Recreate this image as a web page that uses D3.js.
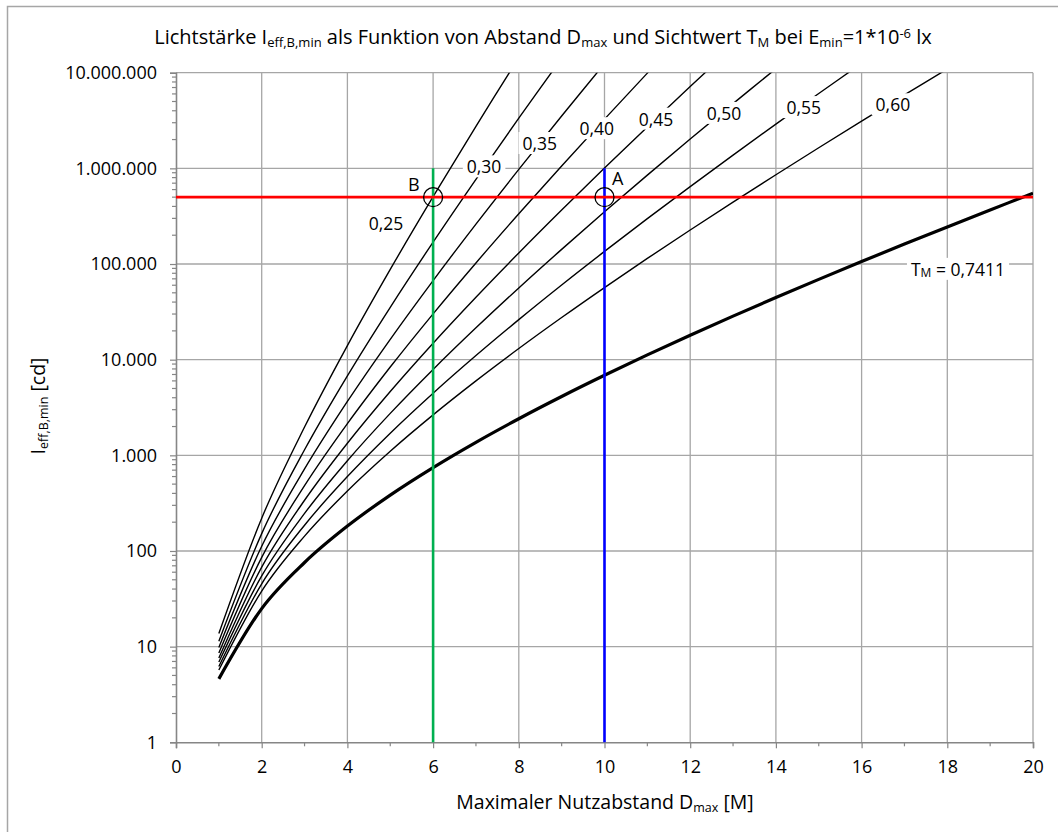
<!DOCTYPE html>
<html>
<head>
<meta charset="utf-8">
<script src="https://cdn.jsdelivr.net/npm/d3@7"></script>
<style>
  body { margin: 0; background: #fff; }
  text { font-family: "Open Sans", sans-serif; fill: #000; }
</style>
</head>
<body>
<div id="chart"></div>
<script>
// distances D_max [M]
var distances = [1, 2, 3, 4, 5, 6, 7, 8, 9, 10, 11, 12, 13, 14, 15, 16, 17, 18, 19, 20];

// I_eff,B,min [cd], one value per distance (until the curve leaves the top)
var i025 = [13.7, 220, 1976, 14050, 87800, 505800, 2754000, 14390000];
var i030 = [11.4, 152, 1143, 6775, 35290, 169400, 768500, 3346000, 14120000];
var i035 = [9.8, 112, 720, 3657, 16330, 67160, 261200, 974700, 3525000, 12430000];
var i040 = [8.6, 85.8, 482, 2144, 8374, 30140, 102600, 335000, 1060000, 3271000, 9895000, 29440000];
var i045 = [7.6, 67.8, 339, 1339, 4647, 14870, 44980, 130600, 367200, 1007000, 2709000, 7163000, 18680000];
var i050 = [6.9, 54.9, 247, 878, 2744, 7903, 21510, 56200, 142200, 351200, 850000, 2023000, 4749000, 11010000];
var i055 = [6.2, 45.4, 186, 600, 1704, 4461, 11040, 26220, 60330, 135400, 297900, 644600, 1376000, 2900000, 6054000, 12520000];
var i060 = [5.7, 38.1, 143, 424, 1103, 2647, 6004, 13070, 27570, 56730, 114400, 226900, 443800, 857900, 1641000, 3113000, 5856000, 10940000];
var i7411 = [4.6, 25.0, 75.8, 182, 384, 745, 1369, 2413, 4120, 6864, 11210, 17990, 28500, 44600, 69080, 106100, 161600, 244400, 367400, 549400];

var curveLabels = ["0,25", "0,30", "0,35", "0,40", "0,45", "0,50", "0,55", "0,60"];
var curveSeries = [i025, i030, i035, i040, i045, i050, i055, i060];
// where each curve label sits, [D, I]
var labelAnchors = [[4.9, 270000], [7.19, 1050000], [8.49, 1840000], [9.82, 2630000],
                    [11.2, 3310000], [12.79, 3800000], [14.65, 4370000], [16.73, 4680000]];

var xTicks = [0, 2, 4, 6, 8, 10, 12, 14, 16, 18, 20];
var yTicks = [1, 10, 100, 1000, 10000, 100000, 1000000, 10000000];

// reading lines and points
var hLevel = 500000;       // red line
var dB = 6, dA = 10;       // green / blue lines
var vTop = 1000000;        // verticals start here
var markers = [{ name: "B", d: 6, i: 500000, lx: 5.55, li: 680000 },
               { name: "A", d: 10, i: 500000, lx: 10.31, li: 790000 }];

var W = 1058, H = 832;
var pLeft = 176, pRight = 1033, pTop = 72.7, pBottom = 742.3;

var svg = d3.select("#chart").append("svg")
    .attr("width", W)
    .attr("height", H);

// chart area border
svg.append("rect")
    .attr("x", 7.5).attr("y", 6.5)
    .attr("width", 1200).attr("height", 1000)
    .attr("fill", "none")
    .attr("stroke", "#a6a6a6")
    .attr("stroke-width", 1.5);

var x = d3.scaleLinear().domain([0, 20]).range([pLeft, pRight]);
var y = d3.scaleLog().domain([1, 1e7]).range([pBottom, pTop]);

var de = d3.formatLocale({ decimal: ",", thousands: ".", grouping: [3], currency: ["", " €"] });
var fmt = de.format(",d");

// grid
svg.append("g").selectAll("line")
    .data(xTicks.slice(1))
    .enter().append("line")
    .attr("x1", d => x(d)).attr("x2", d => x(d))
    .attr("y1", pTop).attr("y2", pBottom)
    .attr("stroke", "#a6a6a6").attr("stroke-width", 1.3);
svg.append("g").selectAll("line")
    .data(yTicks.slice(1))
    .enter().append("line")
    .attr("x1", pLeft).attr("x2", pRight)
    .attr("y1", d => y(d)).attr("y2", d => y(d))
    .attr("stroke", "#a6a6a6").attr("stroke-width", 1.3);

// minor ticks
var minorY = [];
yTicks.slice(0, -1).forEach(function(t) {
    for (var k = 2; k < 10; k++) minorY.push(t * k);
});
svg.append("g").selectAll("line")
    .data(minorY)
    .enter().append("line")
    .attr("x1", pLeft - 4).attr("x2", pLeft)
    .attr("y1", d => y(d)).attr("y2", d => y(d))
    .attr("stroke", "#868686").attr("stroke-width", 1.2);

var minorX = [1, 3, 5, 7, 9, 11, 13, 15, 17, 19];
svg.append("g").selectAll("line")
    .data(minorX)
    .enter().append("line")
    .attr("x1", d => x(d)).attr("x2", d => x(d))
    .attr("y1", pBottom).attr("y2", pBottom + 4)
    .attr("stroke", "#868686").attr("stroke-width", 1.2);

// axes
var xAxis = svg.append("g")
    .attr("transform", "translate(0," + pBottom + ")")
    .call(d3.axisBottom(x).tickValues(xTicks).tickSize(6).tickPadding(12).tickFormat(d3.format("d")));
var yAxis = svg.append("g")
    .attr("transform", "translate(" + pLeft + ",0)")
    .call(d3.axisLeft(y).tickValues(yTicks).tickSize(6).tickPadding(13).tickFormat(fmt));

[xAxis, yAxis].forEach(function(a) {
    a.select(".domain").attr("stroke", "#868686").attr("stroke-width", 1.6);
    a.selectAll(".tick line").attr("stroke", "#868686").attr("stroke-width", 1.2);
    a.selectAll(".tick text")
        .style("font-family", "'Open Sans', sans-serif")
        .style("font-size", "18px")
        .attr("fill", "#000");
});

// curves (smoothed like the spreadsheet lines)
svg.append("clipPath").attr("id", "plotclip")
    .append("rect")
    .attr("x", pLeft).attr("y", pTop)
    .attr("width", pRight - pLeft).attr("height", pBottom - pTop);

var line = d3.line()
    .curve(d3.curveCardinal.tension(0))
    .x((d, i) => x(distances[i]))
    .y(d => y(d));

var curves = svg.append("g").attr("clip-path", "url(#plotclip)");
curveSeries.forEach(function(s) {
    curves.append("path")
        .attr("d", line(s))
        .attr("fill", "none")
        .attr("stroke", "#000")
        .attr("stroke-width", 1.4);
});
curves.append("path")
    .attr("d", line(i7411))
    .attr("fill", "none")
    .attr("stroke", "#000")
    .attr("stroke-width", 3.2);

// reading lines
svg.append("line")
    .attr("x1", x(dB)).attr("x2", x(dB))
    .attr("y1", y(vTop)).attr("y2", pBottom)
    .attr("stroke", "#00b050").attr("stroke-width", 2.6);
svg.append("line")
    .attr("x1", x(dA)).attr("x2", x(dA))
    .attr("y1", y(vTop)).attr("y2", pBottom)
    .attr("stroke", "#0000ff").attr("stroke-width", 2.6);
svg.append("line")
    .attr("x1", pLeft).attr("x2", pRight)
    .attr("y1", y(hLevel)).attr("y2", y(hLevel))
    .attr("stroke", "#ff0000").attr("stroke-width", 2.8);

markers.forEach(function(m) {
    svg.append("circle")
        .attr("cx", x(m.d)).attr("cy", y(m.i))
        .attr("r", 9.5)
        .attr("fill", "none")
        .attr("stroke", "#000")
        .attr("stroke-width", 1.3);
    svg.append("text")
        .attr("x", x(m.lx)).attr("y", y(m.li))
        .attr("text-anchor", "middle")
        .attr("dominant-baseline", "central")
        .style("font-size", "18px")
        .text(m.name);
});

// labels with white boxes
function boxedLabel(px, py, build) {
    var g = svg.append("g");
    var r = g.append("rect").attr("fill", "#fff");
    var t = g.append("text")
        .attr("x", px).attr("y", py)
        .attr("text-anchor", "middle")
        .attr("dominant-baseline", "central")
        .style("font-size", "17.5px");
    build(t);
    var b = t.node().getBBox();
    r.attr("x", b.x - 4).attr("y", b.y + 1)
        .attr("width", b.width + 8).attr("height", b.height - 2);
    return g;
}

curveLabels.forEach(function(l, i) {
    var a = labelAnchors[i];
    if (i === 0) {
        svg.append("text")
            .attr("x", x(a[0])).attr("y", y(a[1]))
            .attr("text-anchor", "middle")
            .attr("dominant-baseline", "central")
            .style("font-size", "17.5px")
            .text(l);
    } else {
        boxedLabel(x(a[0]), y(a[1]), t => t.text(l));
    }
});

boxedLabel(x(18.25), y(89000), function(t) {
    t.append("tspan").text("T");
    t.append("tspan").attr("baseline-shift", "-25%").style("font-size", "12px").text("M");
    t.append("tspan").text(" = 0,7411");
});

// title
var title = svg.append("text")
    .attr("x", 543).attr("y", 44)
    .attr("text-anchor", "middle")
    .style("font-size", "20px");
title.append("tspan").text("Lichtstärke I");
title.append("tspan").attr("baseline-shift", "-25%").style("font-size", "13px").text("eff,B,min");
title.append("tspan").text(" als Funktion von Abstand D");
title.append("tspan").attr("baseline-shift", "-25%").style("font-size", "13px").text("max");
title.append("tspan").text(" und Sichtwert T");
title.append("tspan").attr("baseline-shift", "-25%").style("font-size", "13px").text("M");
title.append("tspan").text(" bei E");
title.append("tspan").attr("baseline-shift", "-25%").style("font-size", "13px").text("min");
title.append("tspan").text("=1*10");
title.append("tspan").attr("baseline-shift", "45%").style("font-size", "13px").text("-6");
title.append("tspan").text(" lx");

// axis titles
var xt = svg.append("text")
    .attr("x", 605).attr("y", 809)
    .attr("text-anchor", "middle")
    .style("font-size", "19.5px");
xt.append("tspan").text("Maximaler Nutzabstand D");
xt.append("tspan").attr("baseline-shift", "-25%").style("font-size", "12.5px").text("max");
xt.append("tspan").text(" [M]");

var yt = svg.append("text")
    .attr("transform", "translate(45,406) rotate(-90)")
    .attr("text-anchor", "middle")
    .style("font-size", "19.5px");
yt.append("tspan").text("I");
yt.append("tspan").attr("baseline-shift", "-25%").style("font-size", "12.5px").text("eff,B,min");
yt.append("tspan").text(" [cd]");
</script>
</body>
</html>
